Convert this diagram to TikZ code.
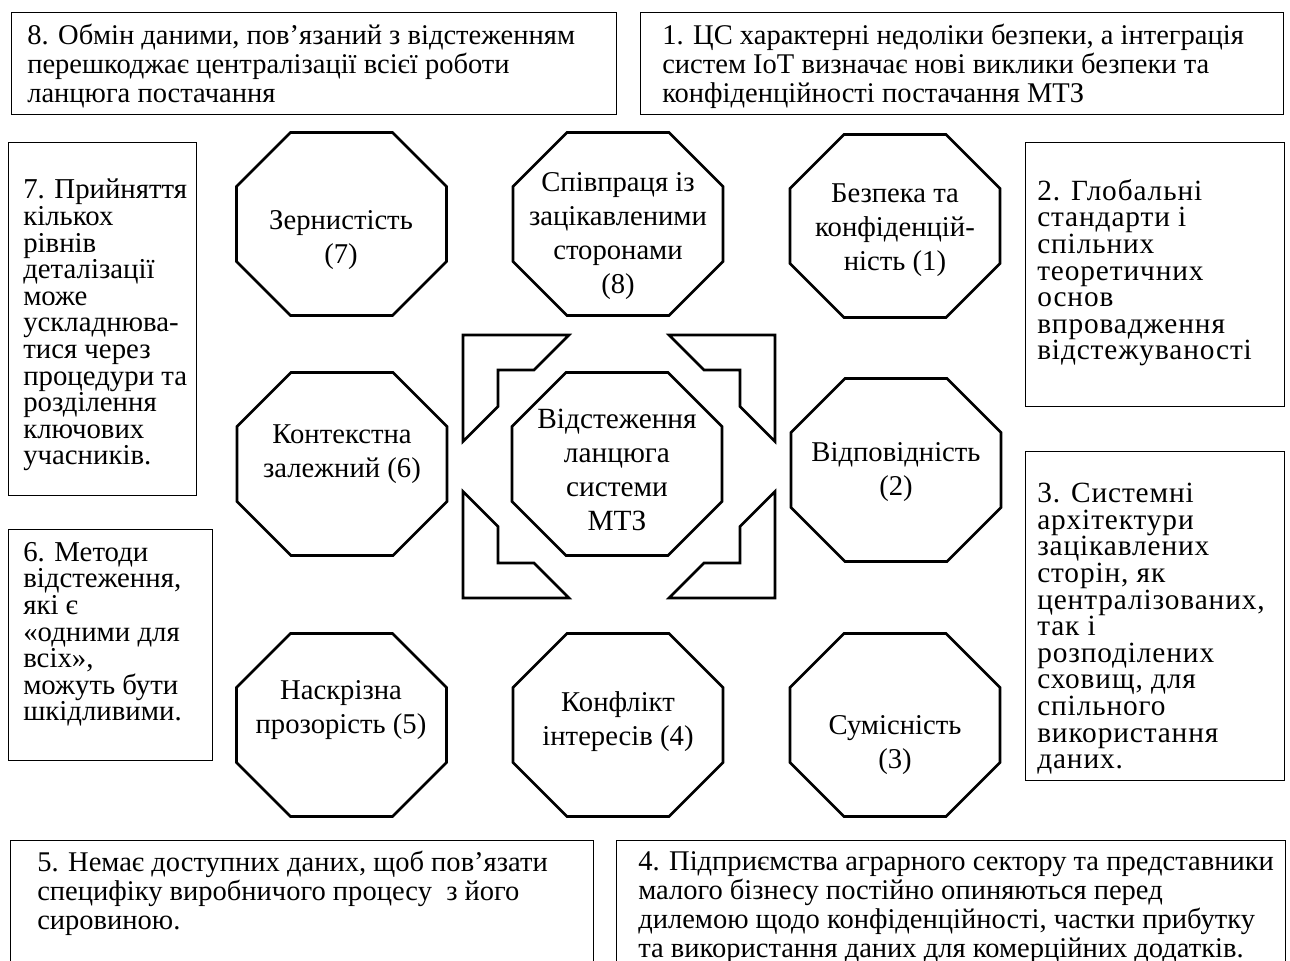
\documentclass[tikz,border=0pt]{standalone}
\usepackage{fontspec}
\setmainfont{Liberation Serif}
\begin{document}
\begin{tikzpicture}[x=0.75pt,y=-0.75pt,
  tbox/.style={draw, line width=1.1pt, rectangle, inner sep=0pt, anchor=north west},
  btext/.style={align=left, inner sep=0pt, anchor=north west, font=\fontsize{21.4pt}{21.75pt}\selectfont},
  stext/.style={align=left, inner sep=0pt, anchor=north west, font=\fontsize{21.6pt}{19.95pt}\selectfont},
  wtext/.style={align=left, inner sep=0pt, anchor=north west, font=\fontsize{22pt}{19.95pt}\selectfont\addfontfeatures{LetterSpace=3}},
  otext/.style={align=center, inner sep=0pt, font=\fontsize{21.5pt}{25.5pt}\selectfont},
  ctext/.style={align=center, inner sep=0pt, font=\fontsize{22pt}{25.5pt}\selectfont},
  oct/.style={draw, line width=2pt, line join=miter},
  brk/.style={draw, line width=1.9pt, line join=miter}]
\useasboundingbox (0,0) rectangle (1290,961);
\newcommand{\octa}[1]{%
  \draw[oct] ([shift={(-105,-37.5)}]#1) -- ([shift={(-51,-91.5)}]#1) -- ([shift={(51,-91.5)}]#1) -- ([shift={(105,-37.5)}]#1) -- ([shift={(105,37.5)}]#1) -- ([shift={(51,91.5)}]#1) -- ([shift={(-51,91.5)}]#1) -- ([shift={(-105,37.5)}]#1) -- cycle;}

% text boxes
\node[tbox, minimum width={605*0.75pt}, minimum height={102*0.75pt}] (b8) at (11,12) {};
\node[btext] (t8) at (27,24) {8. Обмін даними, пов’язаний з відстеженням\\перешкоджає централізації всієї роботи\\ланцюга постачання};
\node[tbox, minimum width={643*0.75pt}, minimum height={102*0.75pt}] (b1) at (640,12) {};
\node[btext] (t1) at (662,24) {1. ЦС характерні недоліки безпеки, а інтеграція\\систем IoT визначає нові виклики безпеки та\\конфіденційності постачання МТЗ};
\node[tbox, minimum width={188*0.75pt}, minimum height={353*0.75pt}] (b7) at (8,142) {};
\node[stext] (t7) at (23,179) {7. Прийняття\\кількох\\рівнів\\деталізації\\може\\ускладнюва-\\тися через\\процедури та\\розділення\\ключових\\учасників.};
\node[tbox, minimum width={259*0.75pt}, minimum height={264*0.75pt}] (b2) at (1025,142) {};
\node[wtext] (t2) at (1037,179) {2. Глобальні\\стандарти і\\спільних\\теоретичних\\основ\\впровадження\\відстежуваності};
\node[tbox, minimum width={204*0.75pt}, minimum height={231*0.75pt}] (b6) at (8,529) {};
\node[stext] (t6) at (23,542) {6. Методи\\відстеження,\\які є\\«одними для\\всіх»,\\можуть бути\\шкідливими.};
\node[tbox, minimum width={259*0.75pt}, minimum height={329*0.75pt}] (b3) at (1025,451) {};
\node[wtext] (t3) at (1037,483) {3. Системні\\архітектури\\зацікавлених\\сторін, як\\централізованих,\\так і\\розподілених\\сховищ, для\\спільного\\використання\\даних.};
\node[tbox, minimum width={583*0.75pt}, minimum height={124*0.75pt}] (b5) at (10,840) {};
\node[btext] (t5) at (37,851) {5. Немає доступних даних, щоб пов’язати\\специфіку виробничого процесу\ \ з його\\сировиною.};
\node[tbox, minimum width={669*0.75pt}, minimum height={124*0.75pt}] (b4) at (616,840) {};
\node[btext] (t4) at (638,851) {4. Підприємства аграрного сектору та представники\\малого бізнесу постійно опиняються перед\\дилемою щодо конфіденційності, частки прибутку\\та використання даних для комерційних додатків.};

% octagons
\coordinate (c7) at (341.5,224); \octa{c7}
\node[otext] (o7) at (341,240) {Зернистість\\(7)};
\coordinate (c8) at (618,224); \octa{c8}
\node[otext] (o8) at (618,236) {Співпраця із\\зацікавленими\\сторонами\\(8)};
\coordinate (c1) at (895,226); \octa{c1}
\node[otext] (o1) at (895,230) {Безпека та\\конфіденцій-\\ність (1)};
\coordinate (c6) at (342,464); \octa{c6}
\node[otext] (o6) at (342,454) {Контекстна\\залежний (6)};
\coordinate (cc) at (617,464); \octa{cc}
\node[ctext] (oc) at (617,470) {Відстеження\\ланцюга\\системи\\МТЗ};
\coordinate (c2) at (896,470); \octa{c2}
\node[otext] (o2) at (896,472) {Відповідність\\(2)};
\coordinate (c5) at (341.5,725); \octa{c5}
\node[otext] (o5) at (341,710) {Наскрізна\\прозорість (5)};
\coordinate (c4) at (618,725); \octa{c4}
\node[otext] (o4) at (618,722) {Конфлікт\\інтересів (4)};
\coordinate (c3) at (895,725); \octa{c3}
\node[otext] (o3) at (895,745) {Сумісність\\(3)};

% corner brackets
\coordinate (k) at (619,466.5);
\draw[brk] ([shift={(-156,-131.5)}]k) -- ([shift={(-50,-131.5)}]k) -- ([shift={(-85,-96.5)}]k) -- ([shift={(-121,-96.5)}]k) -- ([shift={(-121,-60)}]k) -- ([shift={(-156,-25)}]k) -- cycle;
\draw[brk] ([shift={(156,-131.5)}]k) -- ([shift={(50,-131.5)}]k) -- ([shift={(85,-96.5)}]k) -- ([shift={(121,-96.5)}]k) -- ([shift={(121,-60)}]k) -- ([shift={(156,-25)}]k) -- cycle;
\draw[brk] ([shift={(-156,131.5)}]k) -- ([shift={(-50,131.5)}]k) -- ([shift={(-85,96.5)}]k) -- ([shift={(-121,96.5)}]k) -- ([shift={(-121,60)}]k) -- ([shift={(-156,25)}]k) -- cycle;
\draw[brk] ([shift={(156,131.5)}]k) -- ([shift={(50,131.5)}]k) -- ([shift={(85,96.5)}]k) -- ([shift={(121,96.5)}]k) -- ([shift={(121,60)}]k) -- ([shift={(156,25)}]k) -- cycle;
\end{tikzpicture}
\end{document}
